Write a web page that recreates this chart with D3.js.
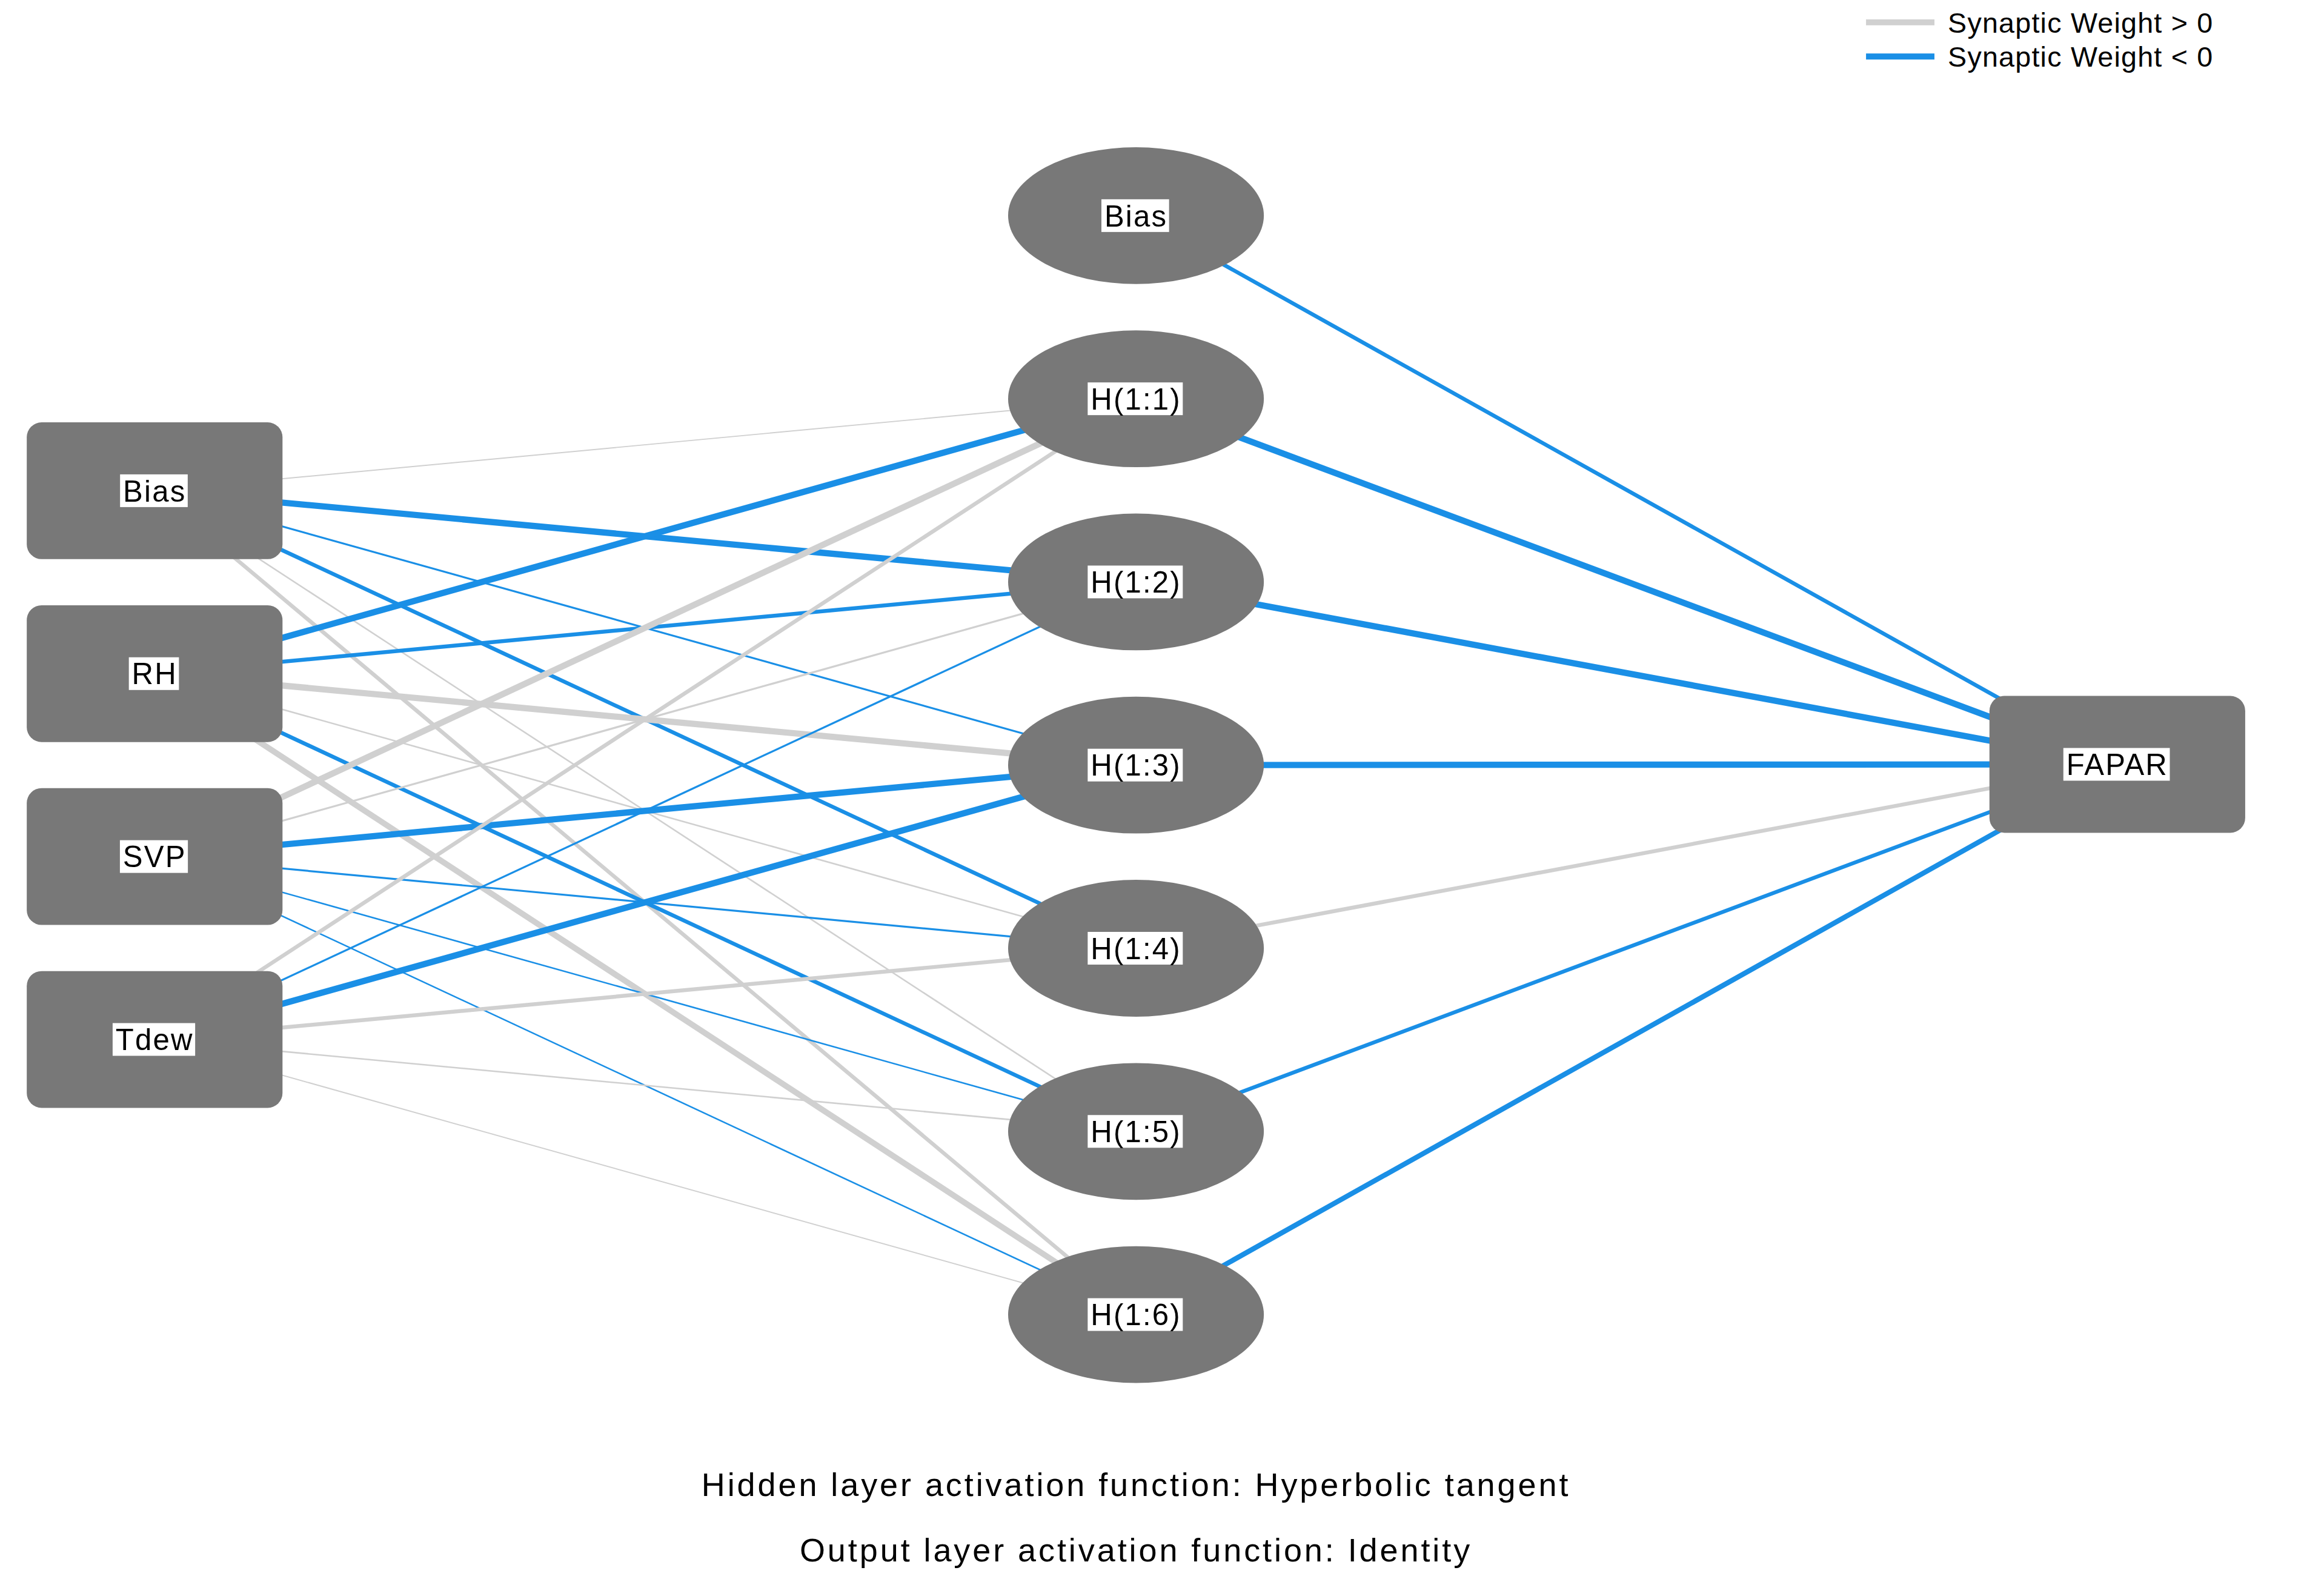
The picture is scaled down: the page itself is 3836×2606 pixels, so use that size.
<!DOCTYPE html>
<html><head><meta charset="utf-8">
<script src="https://cdn.jsdelivr.net/npm/d3@7"></script>
<style>body{margin:0;background:#fff}</style>
</head><body>
<svg class="net"></svg>
<script>
'use strict';

var inputNodes = ['Bias', 'RH', 'SVP', 'Tdew'];
var hiddenNodes = ['Bias', 'H(1:1)', 'H(1:2)', 'H(1:3)', 'H(1:4)', 'H(1:5)', 'H(1:6)'];
var outputNodes = ['FAPAR'];

var inputWeights = [
  [ 0.3, -1.6, -0.5, -1.0,  0.4,  1.0],
  [-1.6, -1.0,  1.6,  0.4, -1.0,  1.5],
  [ 1.6,  0.5, -1.6, -0.5, -0.4, -0.4],
  [ 1.0, -0.5, -1.6,  1.0,  0.4,  0.3]
];
// hidden (Bias, H1..H6) -> FAPAR
var outputWeights = [-1.0, -1.6, -1.6, -1.6, 1.0, -1.0, -1.3];

var legendLabels = ['Synaptic Weight > 0', 'Synaptic Weight < 0'];
var footnotes = ['Hidden layer activation function: Hyperbolic tangent',
                 'Output layer activation function: Identity'];

var W = 3836, H = 2606;
var s = W / 1563;
var grey = '#d0d0d0', blue = '#1a8fe6', nodeFill = '#787878';

var svg = d3.select('.net').attr('width', W).attr('height', H);

var colX = d3.scalePoint().domain(['in', 'hid', 'out']).range([104 * s, 1424 * s]);
colX.domain(['in', 'hid', 'out']);
var xIn = 104 * s, xHid = 764 * s, xOut = 1424 * s;
var yHid = d3.scaleLinear().domain([0, hiddenNodes.length - 1]).range([145 * s, 884 * s]);
var yIn = d3.scaleLinear().domain([0, inputNodes.length - 1]).range([330 * s, 699 * s]);
var yOut = function () { return 514 * s; };
var width = d3.scaleLinear().domain([0, 1.6]).range([0, 4.2 * s]);

var edges = [];
inputWeights.forEach(function (row, i) {
  row.forEach(function (w, j) {
    edges.push({x1: xIn, y1: yIn(i), x2: xHid, y2: yHid(j + 1), w: w});
  });
});
outputWeights.forEach(function (w, j) {
  edges.push({x1: xHid, y1: yHid(j), x2: xOut, y2: yOut(0), w: w});
});

svg.append('g').selectAll('line')
  .data(edges)
  .enter().append('line')
  .attr('x1', function (d) {return d.x1;})
  .attr('y1', function (d) {return d.y1;})
  .attr('x2', function (d) {return d.x2;})
  .attr('y2', function (d) {return d.y2;})
  .style('stroke', function (d) {return d.w > 0 ? grey : blue;})
  .style('stroke-width', function (d) {return width(Math.abs(d.w));});

function label(g, text) {
  var t = g.append('text').text(text)
    .attr('text-anchor', 'middle').attr('dy', '0.36em')
    .style('font', (20 * s) + 'px "Liberation Sans", Arial, sans-serif')
    .style('letter-spacing', (0.9 * s) + 'px')
    .style('fill', '#000');
  var b = t.node().getBBox();
  g.insert('rect', 'text')
    .attr('x', b.x - 2 * s).attr('y', -11 * s)
    .attr('width', b.width + 3 * s).attr('height', 22 * s)
    .style('fill', '#fff');
}

function rectNodes(names, x, y) {
  var g = svg.append('g').selectAll('g').data(names).enter().append('g')
    .attr('transform', function (d, i) {return 'translate(' + x + ',' + y(i) + ')';});
  g.append('rect')
    .attr('x', -86 * s).attr('y', -46 * s)
    .attr('width', 172 * s).attr('height', 92 * s)
    .attr('rx', 10 * s).attr('ry', 10 * s)
    .style('fill', nodeFill);
  g.each(function (d) {label(d3.select(this), d);});
}

rectNodes(inputNodes, xIn, yIn);
rectNodes(outputNodes, xOut, yOut);

var hg = svg.append('g').selectAll('g').data(hiddenNodes).enter().append('g')
  .attr('transform', function (d, i) {return 'translate(' + xHid + ',' + yHid(i) + ')';});
hg.append('ellipse').attr('rx', 86 * s).attr('ry', 46 * s).style('fill', nodeFill);
hg.each(function (d) {label(d3.select(this), d);});

// legend
var lg = svg.append('g').selectAll('g').data(legendLabels).enter().append('g')
  .attr('transform', function (d, i) {return 'translate(' + (1255 * s) + ',' + ((15 + i * 23) * s) + ')';});
lg.append('line').attr('x1', 0).attr('x2', 46 * s)
  .style('stroke', function (d, i) {return i ? blue : grey;})
  .style('stroke-width', 4 * s);
lg.append('text').text(function (d) {return d;})
  .attr('x', 55 * s).attr('dy', '0.36em')
  .style('font', (19 * s) + 'px "Liberation Sans", Arial, sans-serif')
  .style('letter-spacing', (0.5 * s) + 'px');

svg.append('g').selectAll('text').data(footnotes).enter().append('text')
  .text(function (d) {return d;})
  .attr('x', 764 * s)
  .attr('y', function (d, i) {return (998 + i * 44) * s;})
  .attr('dy', '0.36em').attr('text-anchor', 'middle')
  .style('font', (22 * s) + 'px "Liberation Sans", Arial, sans-serif')
  .style('letter-spacing', (1.6 * s) + 'px');
</script>
</body></html>
